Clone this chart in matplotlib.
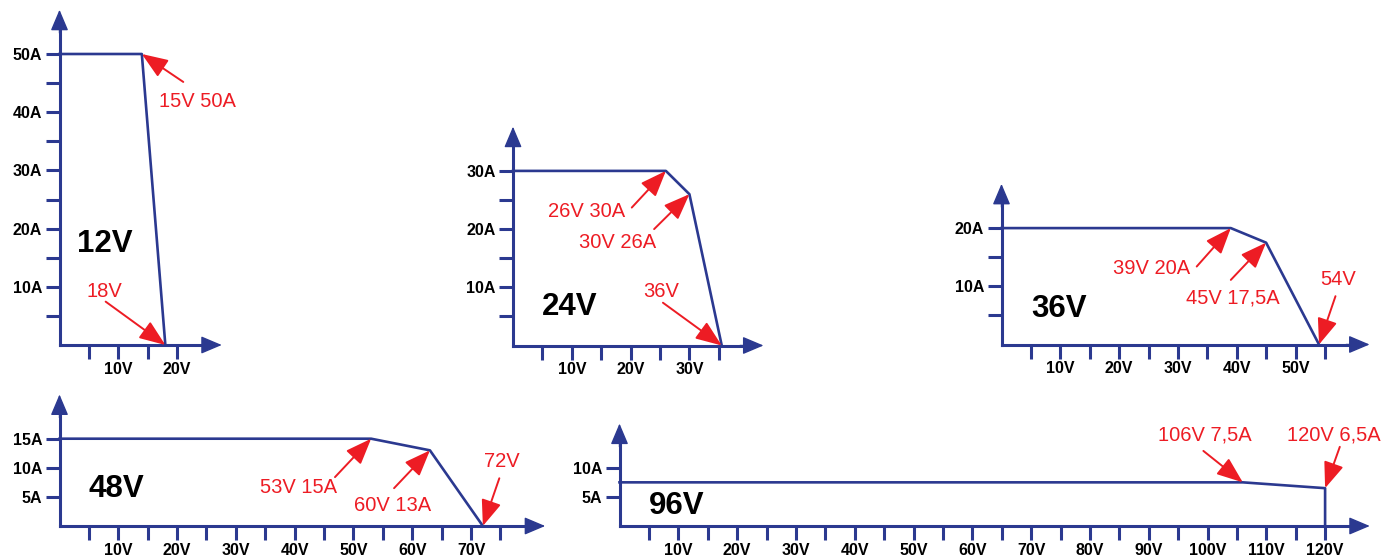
import matplotlib.pyplot as plt
import numpy as np

plt.rcParams['font.family'] = ['Liberation Sans', 'DejaVu Sans']

BLUE = '#2B3990'
RED = '#ED1C24'
W, H = 1399, 560
SX, SY = 5.88, 5.82   # pixels per volt, pixels per amp
OVER = 7.6            # axis arrow reaches this far past the last tick

# power supply models
models = ['12V', '24V', '36V', '48V', '96V']

# corners of the V/I curves
volts_12 = [0, 14, 18]
amps_12 = [50, 50, 0]
volts_24 = [0, 26, 30, 35.5]
amps_24 = [30, 30, 26, 0]
volts_36 = [0, 39, 45, 54]
amps_36 = [20, 20, 17.5, 0]
volts_48 = [0, 53, 63, 72]
amps_48 = [15, 15, 13, 0]
volts_96 = [0, 106, 120, 120]
amps_96 = [7.5, 7.5, 6.5, 0]

# callouts and the corner each one points at
notes_12 = ['15V 50A', '18V']
points_12 = [1, 2]
notes_24 = ['26V 30A', '30V 26A', '36V']
points_24 = [1, 2, 3]
notes_36 = ['39V 20A', '45V 17,5A', '54V']
points_36 = [1, 2, 3]
notes_48 = ['53V 15A', '60V 13A', '72V']
points_48 = [1, 2, 3]
notes_96 = ['106V 7,5A', '120V 6,5A']
points_96 = [1, 2]

# last tick on each axis and the step of labelled current ticks
volt_max = [20, 35, 55, 75, 120]
amp_max = [50, 30, 20, 15, 10]
amp_label_step = [10, 10, 10, 5, 5]


def draw_panel(fig, origin, name, volts, amps, notes, points, vmax, amax, astep,
               name_pos, text_pos, tail_pos):
    xtip = vmax + OVER
    ytip = amax + OVER
    ox, oy = origin
    ax = fig.add_axes([ox / W, (H - oy) / H, xtip * SX / W, ytip * SY / H])
    ax.set_xlim(0, xtip)
    ax.set_ylim(0, ytip)
    ax.patch.set_visible(False)

    for s in ['top', 'right']:
        ax.spines[s].set_visible(False)
    for s in ['left', 'bottom']:
        ax.spines[s].set_color(BLUE)
        ax.spines[s].set_linewidth(2.2)
        ax.spines[s].set_capstyle('projecting')
    ax.spines['bottom'].set_bounds(0, xtip - 2)
    ax.spines['left'].set_bounds(0, ytip - 2)

    vt = np.arange(5, vmax + 1, 5)
    at = np.arange(5, amax + 1, 5)
    ax.set_xticks(vt)
    ax.set_xticklabels([f'{v}V' if v % 10 == 0 else '' for v in vt])
    ax.set_yticks(at)
    ax.set_yticklabels([f'{a}A' if a % astep == 0 else '' for a in at])
    ax.tick_params(direction='out', length=10, width=2.2, color=BLUE,
                   labelsize=11.5)
    ax.tick_params(axis='x', pad=2)
    ax.tick_params(axis='y', pad=2.5)
    for lab in ax.get_xticklabels() + ax.get_yticklabels():
        lab.set_fontweight('bold')

    head = dict(arrowstyle='-|>,head_length=1.3,head_width=0.55',
                mutation_scale=10, color=BLUE, lw=1, shrinkA=0, shrinkB=0)
    ax.annotate('', xy=(xtip, 0), xytext=(xtip - 4, 0), arrowprops=head,
                annotation_clip=False)
    ax.annotate('', xy=(0, ytip), xytext=(0, ytip - 4), arrowprops=head,
                annotation_clip=False)

    ax.plot(volts, amps, color=BLUE, lw=1.9, clip_on=False, zorder=3)

    ax.text(name_pos[0], name_pos[1], name, fontsize=22.5, fontweight='bold',
            ha='center', va='baseline')

    red = dict(arrowstyle='-|>,head_length=1.6,head_width=0.62',
               mutation_scale=10, color=RED, lw=1.4, shrinkA=0, shrinkB=0)
    for note, i, tp, tl in zip(notes, points, text_pos, tail_pos):
        ax.text(tp[0], tp[1], note, color=RED, fontsize=14.5,
                ha='center', va='baseline')
        ax.annotate('', xy=(volts[i], amps[i]), xytext=tl, arrowprops=red,
                    annotation_clip=False, zorder=4)


fig = plt.figure(figsize=(W / 100, H / 100), dpi=100)

draw_panel(fig, (59.5, 345), models[0], volts_12, amps_12, notes_12, points_12,
           volt_max[0], amp_max[0], amp_label_step[0], (7.65, 16.0),
           [(23.5, 40.9), (7.7, 8.2)],
           [(21.05, 45.2), (7.85, 7.45)])
draw_panel(fig, (513, 345.5), models[1], volts_24, amps_24, notes_24, points_24,
           volt_max[1], amp_max[1], amp_label_step[1], (9.6, 5.2),
           [(12.5, 22.0), (17.8, 16.7), (25.2, 8.3)],
           [(20.2, 23.7), (24.0, 20.0), (25.5, 7.35)])
draw_panel(fig, (1001.5, 344.5), models[2], volts_36, amps_36, notes_36, points_36,
           volt_max[2], amp_max[2], amp_label_step[2], (9.8, 4.8),
           [(25.6, 12.1), (39.3, 7.1), (57.2, 10.2)],
           [(33.2, 13.4), (39.0, 11.1), (56.8, 8.3)])
draw_panel(fig, (59.5, 526), models[3], volts_48, amps_48, notes_48, points_48,
           volt_max[3], amp_max[3], amp_label_step[3], (9.7, 4.9),
           [(40.7, 5.6), (56.7, 2.5), (75.2, 10.1)],
           [(46.85, 8.4), (56.9, 6.5), (74.8, 8.2)])
draw_panel(fig, (619.5, 526), models[4], volts_96, amps_96, notes_96, points_96,
           volt_max[4], amp_max[4], amp_label_step[4], (9.7, 2.0),
           [(99.5, 14.7), (121.5, 14.7)],
           [(99.3, 12.9), (122.5, 13.6)])

fig.savefig('out.png', dpi=100, facecolor='white')
